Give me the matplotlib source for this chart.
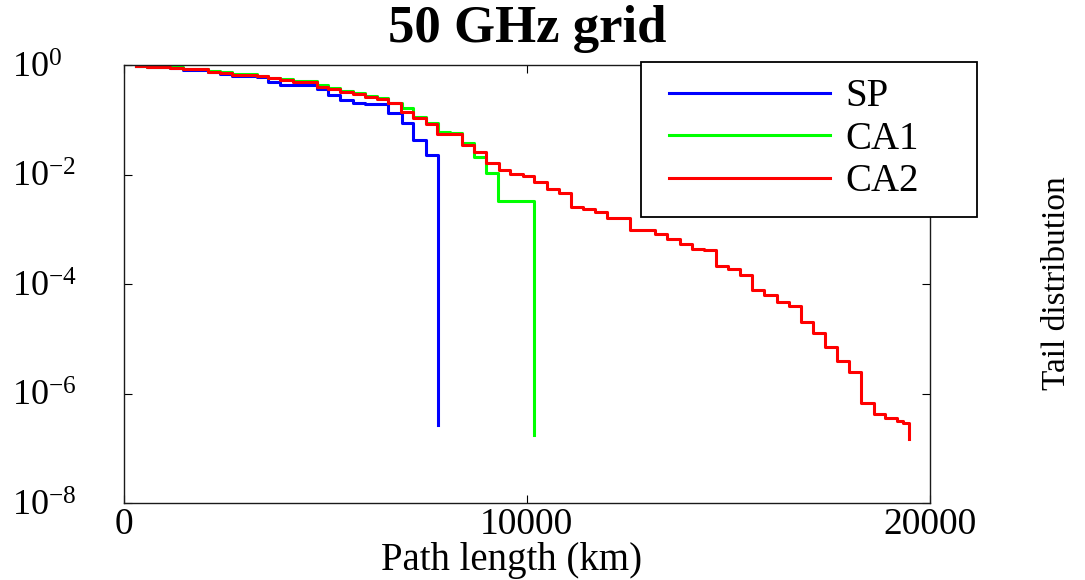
import numpy as np
import matplotlib
matplotlib.use('Agg')
from matplotlib import pyplot as plt
from matplotlib.legend_handler import HandlerLine2D

# 字体：Times 风格衬线体
plt.rcParams['font.family'] = ['Liberation Serif', 'DejaVu Serif']
plt.rcParams['mathtext.fontset'] = 'stix'

# SP：路径长度断点 (km) 与尾分布
sp_len = [300, 580, 1150, 1480, 2100, 2390, 2680, 3300, 3590, 3880,
          4790, 5080, 5370, 5700, 6000, 6570, 6900, 7190, 7490, 7790]
sp_tail = [0.96, 0.92, 0.87, 0.82, 0.755, 0.685, 0.638, 0.604, 0.496, 0.431,
           0.365, 0.283, 0.229, 0.205, 0.191, 0.133, 0.0863, 0.0428, 0.0226, 2.7e-7]

# CA1
ca1_len = [300, 580, 1150, 1480, 2100, 2390, 2680, 3300, 3590, 3880, 4210,
           4790, 5080, 5370, 5700, 5990, 6280, 6570, 6900, 7190, 7490, 7790,
           8100, 8390, 8680, 8990, 9280, 10190]
ca1_tail = [0.96, 0.92, 0.91, 0.86, 0.777, 0.736, 0.685, 0.638, 0.586, 0.548, 0.517,
            0.431, 0.385, 0.339, 0.304, 0.275, 0.247, 0.205, 0.166, 0.114, 0.0863, 0.0606,
            0.0565, 0.0372, 0.021, 0.0105, 0.0033, 1.75e-7]

# CA2
ca2_len = [300, 580, 1150, 1480, 2100, 2390, 2680, 3300, 3590, 3880, 4210,
           4790, 5080, 5370, 5700, 5990, 6280, 6570, 6880, 7180, 7490, 7780,
           8390, 8680, 8980, 9300, 9590, 9900, 10190, 10500, 10800, 11090,
           11400, 11690, 12000, 12560, 13180, 13480, 13790, 14090, 14400, 14690,
           15000, 15290, 15590, 15890, 16200, 16500, 16800, 17110, 17400, 17700,
           18000, 18290, 18600, 18890, 19190, 19340, 19490]
ca2_tail = [0.96, 0.92, 0.89, 0.845, 0.755, 0.723, 0.657, 0.622, 0.571, 0.525, 0.496,
            0.401, 0.365, 0.325, 0.291, 0.263, 0.236, 0.2, 0.141, 0.106, 0.082, 0.054,
            0.0346, 0.0259, 0.0161, 0.0119, 0.0101, 0.0094, 0.0074, 0.0055, 0.0045, 0.0026,
            0.0023, 0.0021, 0.0016, 0.00096, 0.00081, 0.00065, 0.00054, 0.00043, 0.00041, 0.000213,
            0.000185, 0.000146, 7.9e-5, 6.3e-5, 4.6e-5, 3.9e-5, 2.0e-5, 1.3e-5, 7.2e-6, 3.85e-6,
            2.5e-6, 6.6e-7, 4.3e-7, 3.6e-7, 3.2e-7, 2.9e-7, 1.46e-7]

x_ticks = [0, 10000, 20000]
y_ticks = [1e-8, 1e-6, 1e-4, 1e-2, 1e0]

W, H = 1085, 580
fig = plt.figure(figsize=(W / 100, H / 100), dpi=100)
ax = fig.add_axes([123.5 / W, 1 - 503 / H, (930 - 123.5) / W, (503 - 65) / H])

ax.step(sp_len, sp_tail, where='post', color=(0, 0, 1), lw=2.2, label='SP')
ax.step(ca1_len, ca1_tail, where='post', color=(0, 1, 0), lw=2.2, label='CA1')
ax.step(ca2_len, ca2_tail, where='post', color=(1, 0, 0), lw=2.2, label='CA2')

ax.set_yscale('log')
ax.set_xlim(0, 20000)
ax.set_ylim(1e-8, 1)
ax.set_xticks(x_ticks)
ax.set_xticklabels([str(v) for v in x_ticks])
ax.set_yticks(y_ticks)
ax.minorticks_off()

for s in ax.spines.values():
    s.set_linewidth(1.0)
    s.set_color('#1a1a1a')
ax.tick_params(direction='in', top=True, right=True, length=6, width=0.8)
ax.tick_params(axis='x', labelsize=27, pad=3)
ax.tick_params(axis='y', labelsize=26, pad=80)
plt.setp(ax.get_yticklabels(), ha='left')

# 标题与坐标轴标签
fig.text(526.75 / W, 1 - 42 / H, '50 GHz grid', ha='center', va='baseline',
         fontsize=38, fontweight='bold')
fig.text(512 / W, 1 - 570 / H, 'Path length (km)', ha='center', va='baseline', fontsize=28)
fig.text(1057 / W, 1 - 283 / H, 'Tail distribution', ha='center', va='center',
         rotation=90, fontsize=24)

# 图例（伸出坐标轴右侧）
leg = ax.legend(loc='upper left', bbox_to_anchor=(641 / W, 1 - 208 / H, (977 - 641) / W, (208 - 62) / H),
                bbox_transform=fig.transFigure, mode='expand', borderaxespad=0,
                fontsize=28, borderpad=0.42, labelspacing=0.14, handlelength=4.45,
                handletextpad=0.39, fancybox=False, framealpha=1,
                handler_map={matplotlib.lines.Line2D: HandlerLine2D(xpad=0.3)})
leg.get_frame().set_edgecolor('black')
leg.get_frame().set_linewidth(1.3)
for line in leg.get_lines():
    line.set_linewidth(2.2)

fig.savefig('out.png', dpi=100)
